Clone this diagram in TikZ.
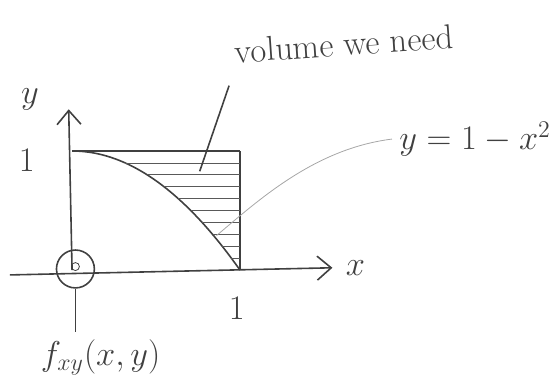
\documentclass[tikz,border=0pt]{standalone}
\usepackage{amsmath, amssymb}
\usepackage{tikz}
\usetikzlibrary{arrows.meta, positioning, calc}
\usepackage[dvipsnames, svgnames]{xcolor}

\begin{document}
\begin{tikzpicture}[x=2.96cm, y=2.1cm, thick, color=black!75, font=\LARGE,
    hatch/.style={thin, black!65},
    leader/.style={thin, black!35},
    >={Straight Barb[length=7pt, width=12pt]}]
    \useasboundingbox (-0.429,-0.958) rectangle (2.899,2.267);

    % Axes
    \coordinate (O) at (0,0);
    \coordinate (xstart) at (-0.37,-0.04);
    \coordinate (xend) at (1.55,0.02);
    \coordinate (yend) at (-0.02,1.35);
    \draw[->] (xstart) -- (xend);
    \draw[->] (O) -- (yend);
    \node (xlab) [right=3pt of xend] {$x$};
    \node (ylab) at (-0.25,1.43) {$y$};
    \node (oney) at (-0.27,0.92) {$1$};
    \node (onex) at (0.98,-0.32) {$1$};

    % Region between the curve and y = 1
    \coordinate (top) at (0,1);
    \coordinate (corner) at (1,1);
    \coordinate (foot) at (1,0);
    \draw (top) -- (corner);
    \draw (foot) -- (corner);
    \draw plot[domain=0:1, samples=40] (\x, {1-\x*\x});
    \foreach \h in {0.1,0.2,...,0.9}
        \draw[hatch] ({sqrt(1-\h)}, \h) -- (1, \h);

    % Origin marker and density label
    \node (orig) at (0.02,0.01) [draw, circle, minimum size=19pt, inner sep=0pt] {};
    \node (dot) at (0.02,0.03) [draw, thin, circle, minimum size=4pt, inner sep=0pt] {};
    \node (fxy) at (0.17,-0.73) {$f_{xy}(x,y)$};
    \draw (orig.south) -- (orig.south |- fxy.north);

    % Labels with leaders
    \node (vol) at (1.62,1.9) [rotate=4] {volume we need};
    \coordinate (volpt) at (0.76,0.83);
    \draw ($(vol.south west)+(0.0,-0.12)$) -- (volpt);
    \node (curve) at (2.4,1.1) {$y=1-x^2$};
    \coordinate (curvept) at (0.86,0.29);
    \draw[leader] (curve.west) .. controls (1.45,1.02) and (1.12,0.6) .. (curvept);
\end{tikzpicture}
\end{document}
